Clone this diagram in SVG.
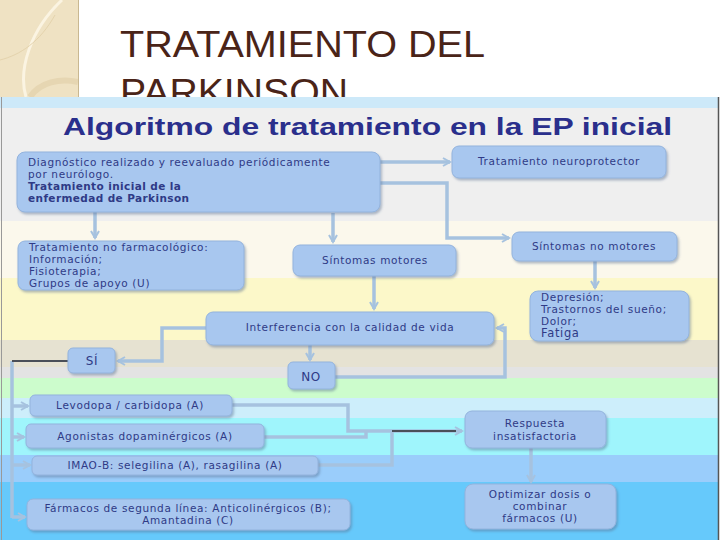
<svg xmlns="http://www.w3.org/2000/svg" width="720" height="540" viewBox="0 0 720 540">
<defs>
<style>
.title{font-family:"Liberation Sans",Arial,sans-serif;font-size:36px;fill:#4a2418}
.head{font-family:"Liberation Sans",Arial,sans-serif;font-weight:bold;font-size:23px;fill:#2a2f8c}
.box{fill:#a8c7ef;stroke:#93b3dd;stroke-width:1;filter:url(#sh)}
.t{font-family:"DejaVu Sans",Verdana,sans-serif;font-size:10.5px;letter-spacing:0.65px;fill:#2f3a86}
.c{text-anchor:middle}
.b{font-weight:bold;letter-spacing:0.4px}
.con{fill:none;stroke:#a6c2df;stroke-width:3.5}
.dark{fill:none;stroke:#4a4f58;stroke-width:2}
</style>
<filter id="sh" x="-10%" y="-20%" width="120%" height="150%">
<feDropShadow dx="1.5" dy="2" stdDeviation="1" flood-color="#56708f" flood-opacity="0.45"/>
</filter>
<marker id="ar" markerWidth="10" markerHeight="10" refX="8" refY="5" orient="auto" markerUnits="userSpaceOnUse">
<path d="M1,1 L8,5 L1,9" fill="none" stroke="#a6c2df" stroke-width="2"/>
</marker>
</defs>

<rect x="0" y="0" width="720" height="540" fill="#ffffff"/>
<g id="decoration">
<rect x="0" y="0" width="78" height="97" fill="#efe2c3"/>
<path d="M62,0 C30,30 18,70 26,97" fill="none" stroke="#fbf4e2" stroke-width="3"/>
<path d="M0,60 C20,55 40,42 55,15" fill="none" stroke="#e4d3ad" stroke-width="1"/>
<path d="M30,97 C40,82 60,78 78,82" fill="none" stroke="#e6d6b2" stroke-width="6"/>
<line x1="78.5" y1="0" x2="78.5" y2="97" stroke="#c9b891" stroke-width="1"/>
</g>
<text class="title" x="120" y="57" textLength="365" lengthAdjust="spacingAndGlyphs">TRATAMIENTO DEL</text>
<text class="title" x="120" y="105" textLength="228" lengthAdjust="spacingAndGlyphs">PARKINSON</text>

<g id="background">
<rect x="0" y="97" width="718" height="11" fill="#cde9f9"/>
<rect x="0" y="108" width="718" height="113" fill="#efefef"/>
<rect x="0" y="221" width="718" height="57" fill="#fbf8ec"/>
<rect x="0" y="278" width="718" height="62" fill="#fcf8c9"/>
<rect x="0" y="340" width="718" height="27" fill="#e6e2d1"/>
<rect x="0" y="367" width="718" height="11" fill="#e3e3e3"/>
<rect x="0" y="378" width="718" height="20" fill="#ccfccc"/>
<rect x="0" y="398" width="718" height="20" fill="#cdeefb"/>
<rect x="0" y="418" width="718" height="37" fill="#9ff5fc"/>
<rect x="0" y="455" width="718" height="27" fill="#9acdfb"/>
<rect x="0" y="482" width="718" height="58" fill="#66c9fb"/>
<line x1="718.5" y1="97" x2="718.5" y2="540" stroke="#555" stroke-width="1.5"/>
<line x1="1.5" y1="97" x2="1.5" y2="540" stroke="#999" stroke-width="1"/>
</g>

<text class="head" x="63" y="135" textLength="609" lengthAdjust="spacingAndGlyphs">Algoritmo de tratamiento en la EP inicial</text>

<g id="connectors">
<path class="con" d="M380,162 H450" marker-end="url(#ar)"/>
<path class="con" d="M380,183 H447 V238 H509" marker-end="url(#ar)"/>
<path class="con" d="M95,212 V238" marker-end="url(#ar)"/>
<path class="con" d="M333,213 V242" marker-end="url(#ar)"/>
<path class="con" d="M595,261 V288" marker-end="url(#ar)"/>
<path class="con" d="M374,276 V309" marker-end="url(#ar)"/>
<path class="con" d="M335,377 H505 V328 H497" marker-end="url(#ar)"/>
<path class="con" d="M310,345 V360" marker-end="url(#ar)"/>
<path class="con" d="M206,328 H162 V361 H118" marker-end="url(#ar)"/>
<path class="con" d="M12,361 V518"/>
<path class="dark" d="M68,361 H12"/>
<path class="con" d="M12,406 H28" marker-end="url(#ar)"/>
<path class="con" d="M12,437 H24" marker-end="url(#ar)"/>
<path class="con" d="M12,465 H30" marker-end="url(#ar)"/>
<path class="con" d="M12,517 H25" marker-end="url(#ar)"/>
<path class="con" d="M232,405 H348 V431 H462" marker-end="url(#ar)"/>
<path class="con" d="M264,437 H366 V431"/>
<path class="con" d="M318,465 H392 V431"/>
<path class="dark" d="M392,431 H456"/>
<path class="con" d="M531,448 V482" marker-end="url(#ar)"/>
</g>

<g id="n-diagnostico">
<rect class="box" x="17" y="152" width="363" height="60" rx="8"/>
<text class="t" x="28" y="166">Diagnóstico realizado y reevaluado periódicamente</text>
<text class="t" x="28" y="178">por neurólogo.</text>
<text class="t b" x="28" y="190">Tratamiento  inicial de la</text>
<text class="t b" x="28" y="202">enfermedad  de Parkinson</text>
</g>
<g id="n-neuroprotector">
<rect class="box" x="452" y="146" width="214" height="32" rx="7"/>
<text class="t c" x="559" y="165">Tratamiento neuroprotector</text>
</g>
<g id="n-nofarmacologico">
<rect class="box" x="18" y="241" width="226" height="49" rx="7"/>
<text class="t" x="29" y="251">Tratamiento no farmacológico:</text>
<text class="t" x="29" y="263">Información;</text>
<text class="t" x="29" y="275">Fisioterapia;</text>
<text class="t" x="29" y="287">Grupos de apoyo (U)</text>
</g>
<g id="n-motores">
<rect class="box" x="293" y="245" width="163" height="31" rx="7"/>
<text class="t c" x="375" y="264">Síntomas motores</text>
</g>
<g id="n-nomotores">
<rect class="box" x="512" y="232" width="165" height="29" rx="7"/>
<text class="t c" x="594" y="250">Síntomas no motores</text>
</g>
<g id="n-depresion">
<rect class="box" x="530" y="291" width="159" height="50" rx="8"/>
<text class="t" x="541" y="301">Depresión;</text>
<text class="t" x="541" y="313">Trastornos del sueño;</text>
<text class="t" x="541" y="325">Dolor;</text>
<text class="t" x="541" y="337" style="font-size:11.5px">Fatiga</text>
</g>
<g id="n-interferencia">
<rect class="box" x="206" y="312" width="288" height="33" rx="7"/>
<text class="t c" x="350" y="331">Interferencia con la calidad de vida</text>
</g>
<g id="n-si">
<rect class="box" x="68" y="348" width="47" height="25" rx="5"/>
<text class="t c" x="92" y="365" style="font-size:12px">SÍ</text>
</g>
<g id="n-no">
<rect class="box" x="288" y="362" width="47" height="27" rx="5"/>
<text class="t c" x="311" y="381" style="font-size:12px">NO</text>
</g>
<g id="n-levodopa">
<rect class="box" x="30" y="395" width="202" height="21" rx="5"/>
<text class="t c" x="130" y="409">Levodopa / carbidopa (A)</text>
</g>
<g id="n-agonistas">
<rect class="box" x="26" y="424" width="238" height="24" rx="5"/>
<text class="t c" x="145" y="440">Agonistas dopaminérgicos (A)</text>
</g>
<g id="n-imaob">
<rect class="box" x="32" y="456" width="286" height="19" rx="5"/>
<text class="t c" x="175" y="469">IMAO-B: selegilina (A), rasagilina (A)</text>
</g>
<g id="n-segunda">
<rect class="box" x="27" y="499" width="323" height="31" rx="6"/>
<text class="t c" x="188" y="512">Fármacos de segunda línea: Anticolinérgicos (B);</text>
<text class="t c" x="188" y="524">Amantadina (C)</text>
</g>
<g id="n-respuesta">
<rect class="box" x="465" y="411" width="141" height="37" rx="7"/>
<text class="t c" x="535" y="427">Respuesta</text>
<text class="t c" x="535" y="440">insatisfactoria</text>
</g>
<g id="n-optimizar">
<rect class="box" x="465" y="484" width="151" height="45" rx="8"/>
<text class="t c" x="540" y="498">Optimizar dosis o</text>
<text class="t c" x="540" y="510">combinar</text>
<text class="t c" x="540" y="522">fármacos (U)</text>
</g>
</svg>
